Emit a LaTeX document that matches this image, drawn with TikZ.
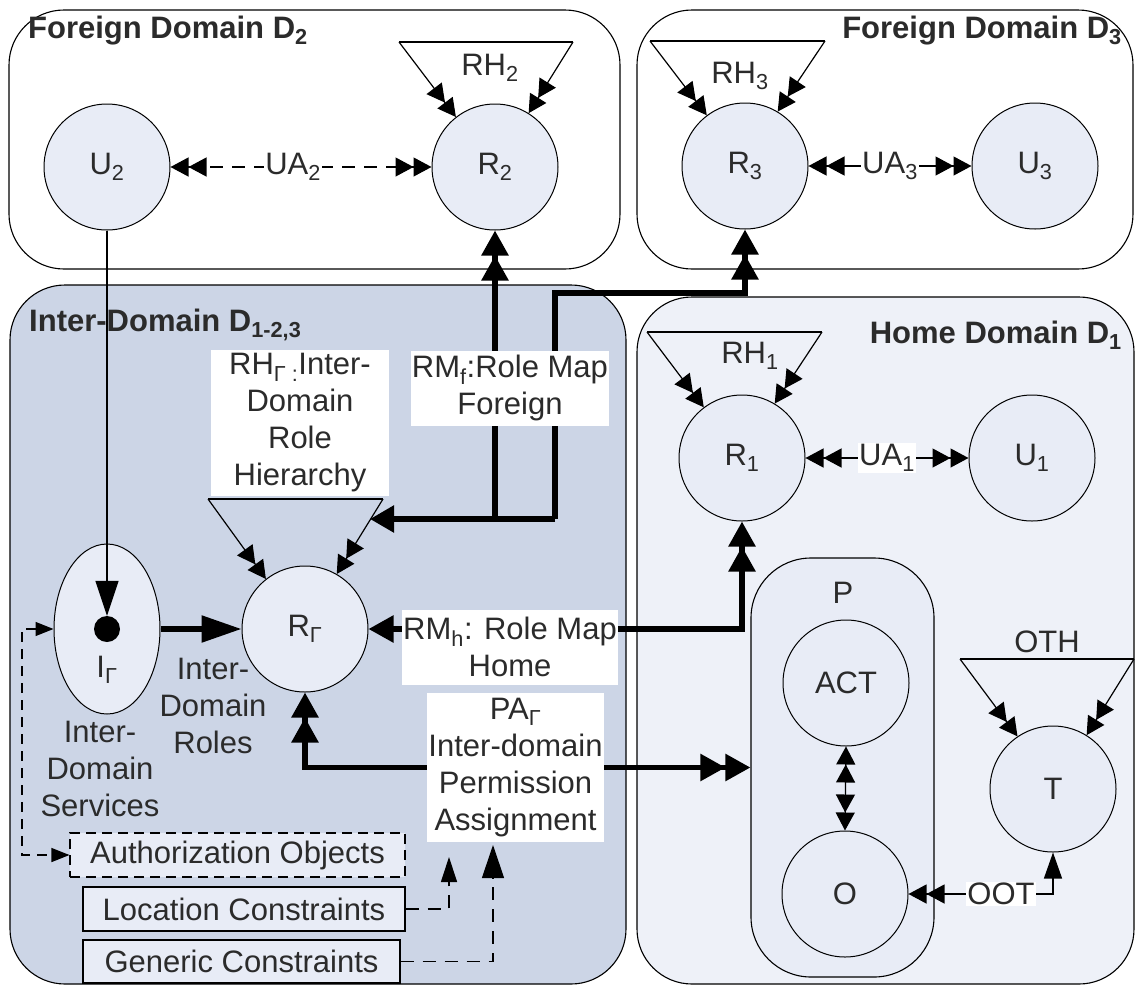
\documentclass[tikz,border=0pt]{standalone}
\usepackage{fontspec}
\setmainfont{Liberation Sans}
\usetikzlibrary{arrows.meta,shapes.geometric}
\definecolor{cfill}{HTML}{E8ECF6}
\definecolor{interfill}{HTML}{CCD5E6}
\definecolor{homefill}{HTML}{EEF1F8}
\definecolor{txt}{HTML}{2B2B2B}
\tikzset{
  sH/.tip={Triangle[length=18pt,width=19pt]},
  bH/.tip={Triangle[length=25pt,width=26pt]},
}
\begin{document}
\begin{tikzpicture}[x=1pt,y=-1pt,
  every node/.style={text=txt, font=\fontsize{31}{37}\selectfont},
  dom/.style={draw=black, line width=1.1pt, rounded corners=55pt},
  circ/.style={circle, draw=black, line width=1pt, fill=cfill, minimum size=126pt, inner sep=0pt},
  tl/.style={draw=black, line width=1.2pt},
  thk/.style={draw=black, line width=5.5pt},
  lab/.style={fill=white, inner sep=1pt, align=center},
  ttl/.style={font=\fontsize{31}{37}\selectfont\bfseries, inner sep=0pt},
  cbox/.style={draw=black, line width=1.1pt, fill=cfill, inner sep=0pt},
  dsh/.style={dash pattern=on 13pt off 9pt},
]
\useasboundingbox (0,0) rectangle (1136,986);
% containers
\draw[dom, fill=white] (9,10) rectangle (620,269);
\draw[dom, fill=white] (637,10) rectangle (1133,269);
\draw[dom, fill=interfill] (10,285) rectangle (626,984);
\draw[dom, fill=homefill] (637,297) rectangle (1134,984);

% titles
\node[ttl, anchor=base west] (ttlD2) at (28,38) {Foreign Domain D\textsubscript{2}};
\node[ttl, anchor=base east] (ttlD3) at (1122,38) {Foreign Domain D\textsubscript{3}};
\node[ttl, anchor=base west] (ttlI) at (29,331) {Inter-Domain D\textsubscript{1-2,3}};
\node[ttl, anchor=base east] (ttlH) at (1122,343) {Home Domain D\textsubscript{1}};

% P container
\node[draw=black, line width=1.1pt, rounded corners=60pt, fill=cfill, minimum width=183pt, minimum height=419pt, inner sep=0pt] (P) at (842.5,767.5) {};
\node (Plab) at (843,593) {P};

% circles
\node[circ] (U2) at (107,167) {U\textsubscript{2}};
\node[circ] (R2) at (495,167) {R\textsubscript{2}};
\node[circ] (R3) at (745,166) {R\textsubscript{3}};
\node[circ] (U3) at (1035,166) {U\textsubscript{3}};
\node[circ] (R1) at (742,458) {R\textsubscript{1}};
\node[circ] (U1) at (1032,458) {U\textsubscript{1}};
\node[circ] (RG) at (305,629) {R\textsubscript{Γ}};
\node[circ] (ACT) at (846,683) {ACT};
\node[circ] (O) at (845,894) {O};
\node[circ] (T) at (1053,789) {T};
\node[ellipse, draw=black, line width=1pt, fill=cfill, minimum width=106pt, minimum height=170pt, inner sep=0pt] (IG) at (107,629) {};
\node[circle, fill=black, minimum size=26pt, inner sep=0pt] (dot) at (107,629) {};
\node (IGl) at (107,670) {I\textsubscript{Γ}};

% constraint boxes
\node[cbox, dashed, dash pattern=on 10pt off 6pt, minimum width=335pt, minimum height=44pt] (Auth) at (237.5,855) {Authorization Objects};
\node[cbox, minimum width=322pt, minimum height=44pt] (Loc) at (244,909) {Location Constraints};
\node[cbox, minimum width=317pt, minimum height=43pt] (Gen) at (241.5,961.5) {Generic Constraints};

% hierarchy triangles
\coordinate (t2a) at (399,42); \coordinate (t2b) at (573,42);
\coordinate (t3a) at (650,41); \coordinate (t3b) at (825,41);
\coordinate (t1a) at (647,332); \coordinate (t1b) at (822,332);
\coordinate (tga) at (208,499); \coordinate (tgb) at (383,499);
\coordinate (toa) at (960,659); \coordinate (tob) at (1134,659);
\draw[tl] (t2a) -- (t2b);
\draw[tl, -{sH[]sH[]}] (t2a) -- (R2.128);
\draw[tl, -{sH[]sH[]}] (t2b) -- (R2.58);
\draw[tl] (t3a) -- (t3b);
\draw[tl, -{sH[]sH[]}] (t3a) -- (R3.127);
\draw[tl, -{sH[]sH[]}] (t3b) -- (R3.59);
\draw[tl] (t1a) -- (t1b);
\draw[tl, -{sH[]sH[]}] (t1a) -- (R1.127);
\draw[tl, -{sH[]sH[]}] (t1b) -- (R1.59);
\draw[tl] (tga) -- (tgb);
\draw[tl, -{sH[]sH[]}] (tga) -- (RG.128);
\draw[tl, -{sH[]sH[]}] (tgb) -- (RG.60);
\draw[tl] (toa) -- (tob);
\draw[tl, -{sH[]sH[]}] (toa) -- (T.124);
\draw[tl, -{sH[]sH[]}] (tob) -- (T.58);
\node (RH2) at (490,68) {RH\textsubscript{2}};
\node (RH3) at (740,76) {RH\textsubscript{3}};
\node (RH1) at (750,356) {RH\textsubscript{1}};
\node (OTH) at (1047,642) {OTH};

% user assignments
\draw[tl, dsh, {sH[]sH[]}-{sH[]sH[]}] (U2.east) -- node[pos=0.47, lab] {UA\textsubscript{2}} (R2.west);
\draw[tl, {sH[]sH[]}-{sH[]sH[]}] (R3.east) -- node[lab] {UA\textsubscript{3}} (U3.west);
\draw[tl, {sH[]sH[]}-{sH[]sH[]}] (R1.east) -- node[lab] {UA\textsubscript{1}} (U1.west);

% U2 to inter-domain services
\draw[tl, -{Triangle[length=35pt,width=23pt]}] (U2.south) -- (dot.north);

% role maps foreign
\coordinate (j1) at (495,519);
\coordinate (j2) at (555,519);
\coordinate (j3) at (555,293);
\coordinate (rhtip) at (370,519);
\draw[thk, -{bH[length=24pt]}] (j2) -- (rhtip);
\draw[thk, -{bH[]bH[]}] (j1) -- (R2.south);
\draw[thk, -{bH[]bH[]}] (j2) -- (j3) -| (R3.south);

% role map home
\coordinate (rmb) at (742,629);
\draw[thk, {bH[]}-{bH[]bH[]}] (RG.east) -- (rmb) -- (R1.south);

% IG to RG
\draw[thk, -{Triangle[length=40pt,width=26pt]}] (IG.east) -- (RG.west);

% permission assignment
\draw[thk, {bH[]bH[]}-{bH[]bH[]}] (RG.south) |- (P.west);

% ACT - O
\draw[tl, {sH[]sH[]}-{sH[]sH[]}] (ACT.south) -- (O.north);

% OOT
\coordinate (ootc) at (1053,894);
\draw[tl, {sH[]sH[]}-{Triangle[length=26pt,width=18pt]}] (O.east) -- node[pos=0.64, lab] {OOT} (ootc) -- (T.south);

% authorization objects link
\coordinate (ac1) at (22,629);
\coordinate (ac2) at (22,855);
\draw[tl, dash pattern=on 10pt off 7pt, {Triangle[length=18pt,width=14pt]}-{Triangle[length=18pt,width=14pt]}] (IG.west) -- (ac1) -- (ac2) -- (Auth.west);

% constraints to PA
\coordinate (lp) at (449,857);
\coordinate (gp) at (493,845);
\draw[tl, dsh, -{Triangle[length=25pt,width=16pt]}] (Loc.east) -| (lp);
\draw[tl, dsh, -{Triangle[length=33pt,width=22pt]}] (Gen.east) -| (gp);

% label boxes
\node[lab, minimum width=178pt, minimum height=146pt] (RHG) at (300,423) {RH\textsubscript{Γ :}Inter-\\Domain\\Role\\Hierarchy};
\node[lab, minimum width=198pt, minimum height=75pt] (RMf) at (510,388) {RM\textsubscript{f}:Role Map\\Foreign};
\node[lab, minimum width=212pt, minimum height=75pt] (RMh) at (510,647) {RM\textsubscript{h}: Role Map\\Home};
\node[lab, minimum width=173pt, minimum height=149pt] (PA) at (515.5,767.5) {PA\textsubscript{Γ}\\Inter-domain\\Permission\\Assignment};

% free texts
\node[align=center] (IDR) at (213,706) {Inter-\\Domain\\Roles};
\node[align=center] (IDS) at (100,769) {Inter-\\Domain\\Services};
\end{tikzpicture}
\end{document}
